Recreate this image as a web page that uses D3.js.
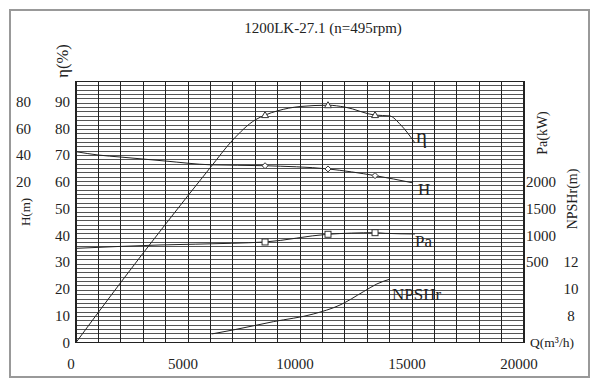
<!DOCTYPE html>
<html><head><meta charset="utf-8">
<script src="https://cdn.jsdelivr.net/npm/d3@7"></script>
<style>html,body{margin:0;padding:0;background:#fff}svg{display:block}</style>
</head><body>
<script>
// ---- data ----
const title = "1200LK-27.1 (n=495rpm)";
const qTicks = [0, 5000, 10000, 15000, 20000];
const etaTicks = [0, 10, 20, 30, 40, 50, 60, 70, 80, 90];
const hTicks = [20, 40, 60, 80];
const paTicks = [500, 1000, 1500, 2000];
const npshTicks = [8, 10, 12];

const etaQ = [0, 2000, 4000, 6000, 7000, 8000, 8440, 9000, 10000, 11250, 12000, 13350, 14000, 14500, 15130];
const etaV = [0, 22.5, 44.3, 65.5, 75.8, 83.3, 85.1, 86.7, 88.3, 88.8, 88.1, 85.1, 84.8, 81.4, 74.7];
const hQ = [0, 1000, 2000, 4000, 6000, 8440, 11250, 13350, 15000];
const hV = [42.8, 40.3, 38.8, 35.8, 33.0, 32.3, 29.9, 24.9, 19.6];
const paQ = [0, 3750, 6950, 8440, 11250, 13350, 13800, 15130];
const paV = [762, 825, 856, 881, 1025, 1055, 1043, 1030];
const npQ = [6060, 7020, 8810, 10590, 11790, 12830, 13430, 13990];
const npV = [6.64, 6.94, 7.56, 8.13, 8.81, 9.8, 10.38, 10.73];
const markQ = [8440, 11250, 13350];

// ---- layout ----
const W = 600, H = 384;
const svg = d3.select("body").append("svg").attr("width", W).attr("height", H);
svg.append("rect").attr("width", W).attr("height", H).attr("fill", "#fff");
svg.append("rect").attr("x", 10).attr("y", 10).attr("width", 579).attr("height", 367)
  .attr("fill", "none").attr("stroke", "#999").attr("stroke-width", 2);

const x = d3.scaleLinear().domain([0, 20000]).range([76, 524]);
const yEta = d3.scaleLinear().domain([0, 90]).range([342.5, 102]);
const yH = d3.scaleLinear().domain([20, 80]).range([yEta(60), yEta(90)]);
const yPa = d3.scaleLinear().domain([500, 2000]).range([yEta(30), yEta(60)]);
const yNp = d3.scaleLinear().domain([8, 12]).range([yEta(10), yEta(30)]);
const gridTop = 81.5, gridBot = yEta(0);
const yGrid = d3.scaleLinear().domain([0, 60]).range([gridBot, gridTop]);

const serif = "'Liberation Serif','Times New Roman',serif";

// grid
const g = svg.append("g").attr("shape-rendering", "crispEdges");
g.selectAll("line.h").data(d3.range(0, 61)).join("line")
  .attr("x1", x(0)).attr("x2", x(20000))
  .attr("y1", d => yGrid(d)).attr("y2", d => yGrid(d))
  .attr("stroke", "#555").attr("stroke-width", 1);
g.selectAll("line.v").data(d3.range(0, 20001, 1000)).join("line")
  .attr("class", "v")
  .attr("x1", d => x(d)).attr("x2", d => x(d))
  .attr("y1", gridTop).attr("y2", gridBot)
  .attr("stroke", "#222").attr("stroke-width", 1);
g.append("rect").attr("x", x(0)).attr("y", gridTop)
  .attr("width", x(20000) - x(0)).attr("height", gridBot - gridTop)
  .attr("fill", "none").attr("stroke", "#222").attr("stroke-width", 1.5);

// curves
function curve(qs, vs, ys) {
  const line = d3.line().x(d => x(d[0])).y(d => ys(d[1])).curve(d3.curveMonotoneX);
  svg.append("path").attr("d", line(d3.zip(qs, vs)))
    .attr("fill", "none").attr("stroke", "#222").attr("stroke-width", 1);
}
curve(etaQ, etaV, yEta);
curve(hQ, hV, yH);
curve(paQ, paV, yPa);
curve(npQ, npV, yNp);

// markers
function interp(qs, vs, q) { return d3.scaleLinear().domain(qs).range(vs)(q); }
const mk = svg.append("g").attr("fill", "#fff").attr("stroke", "#333").attr("stroke-width", 1);
markQ.forEach(q => {
  const ex = x(q), ey = yEta(interp(etaQ, etaV, q));
  mk.append("path").attr("d", `M${ex},${ey - 3.5}L${ex + 3.5},${ey + 2.5}L${ex - 3.5},${ey + 2.5}Z`);
  const hy = yH(interp(hQ, hV, q));
  mk.append("path").attr("d", `M${ex},${hy - 3}L${ex + 3},${hy}L${ex},${hy + 3}L${ex - 3},${hy}Z`);
  const py = yPa(interp(paQ, paV, q));
  mk.append("rect").attr("x", ex - 3).attr("y", py - 3).attr("width", 6).attr("height", 6);
});

// tick labels
function labels(data, fx, fy, anchor, size) {
  svg.append("g").selectAll("text").data(data).join("text")
    .attr("x", fx).attr("y", fy).attr("text-anchor", anchor)
    .attr("dominant-baseline", "central")
    .attr("font-family", serif).attr("font-size", size).attr("fill", "#222")
    .text(d => d);
}
labels(etaTicks, 70, d => yEta(d), "end", 15);
labels(hTicks, 31, d => yH(d), "end", 15);
labels(paTicks, 526, d => yPa(d), "start", 15);
labels(npshTicks, 571, d => yNp(d), "middle", 15);
labels(qTicks, d => x(d) - 5, 364, "middle", 15);

// axis titles
function rot(txt, cx, cy, size) {
  svg.append("text").attr("transform", `translate(${cx},${cy}) rotate(-90)`)
    .attr("text-anchor", "middle").attr("dominant-baseline", "central")
    .attr("font-family", serif).attr("font-size", size).attr("fill", "#222").text(txt);
}
rot("η(%)", 62, 61, 16.5);
rot("H(m)", 25, 212, 13);
rot("Pa(kW)", 542, 133, 14);
rot("NPSHr(m)", 572, 199, 14);
svg.append("text").attr("x", 552).attr("y", 342).attr("text-anchor", "middle")
  .attr("dominant-baseline", "central").attr("font-family", serif).attr("font-size", 13.5)
  .attr("fill", "#222").text("Q(m³/h)");

// title
svg.append("text").attr("x", 323).attr("y", 33).attr("text-anchor", "middle")
  .attr("font-family", serif).attr("font-size", 15).attr("fill", "#222").text(title);

// curve labels
const cl = [["η", 416, 143, 21], ["H", 418, 195, 17], ["Pa", 415, 247, 17], ["NPSHr", 392, 300, 17]];
svg.append("g").selectAll("text").data(cl).join("text")
  .attr("x", d => d[1]).attr("y", d => d[2])
  .attr("font-family", serif).attr("font-size", d => d[3]).attr("fill", "#222").text(d => d[0]);
</script>
</body></html>
